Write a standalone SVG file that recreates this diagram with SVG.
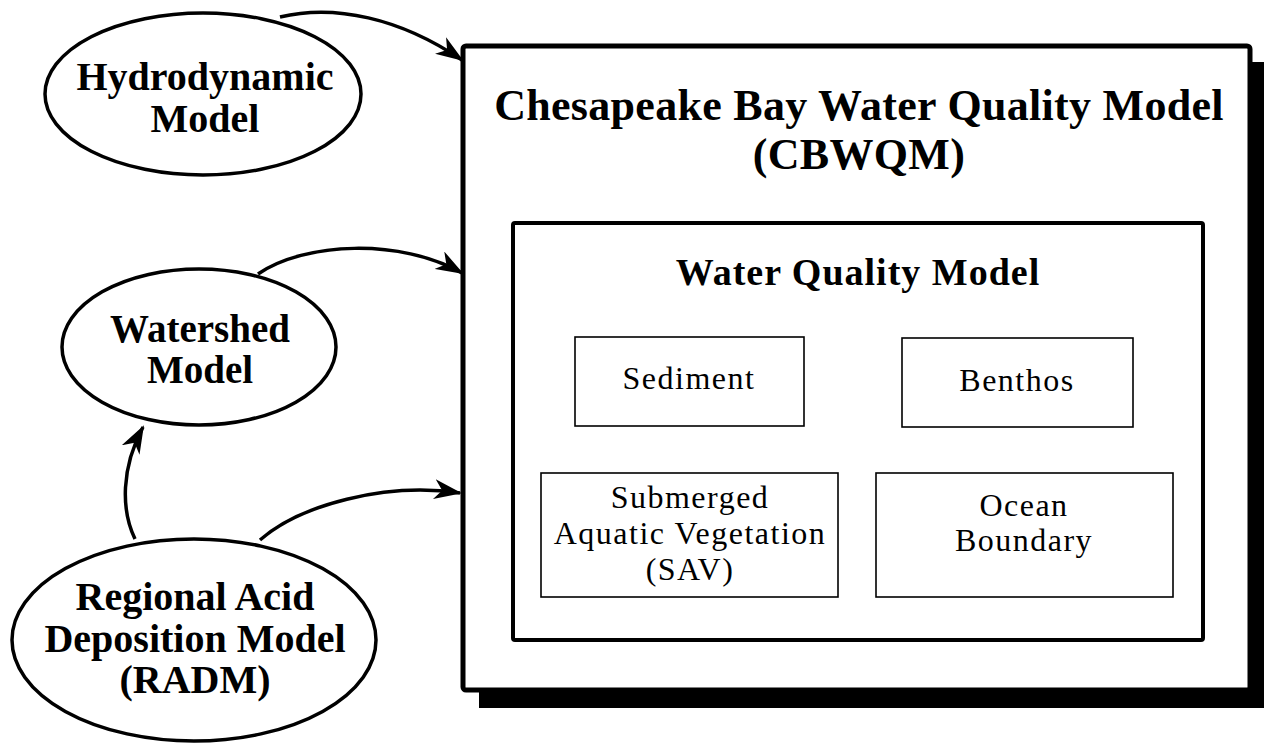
<svg xmlns="http://www.w3.org/2000/svg" width="1264" height="745" viewBox="0 0 1264 745">
  <style>
    .bold { font-family: "Liberation Serif", "Times New Roman", serif; font-weight: bold; fill: #000; text-anchor: middle; }
    .reg { font-family: "Liberation Serif", "Times New Roman", serif; fill: #000; text-anchor: middle; font-size: 32px; letter-spacing: 1.5px; }
    .oval { fill: #fff; stroke: #000; stroke-width: 3.5; }
    .sub { fill: #fff; stroke: #000; stroke-width: 1.6; }
    .link { fill: none; stroke: #000; stroke-width: 3.5; marker-end: url(#arrow); }
  </style>
  <defs>
    <marker id="arrow" viewBox="0 0 28 20" refX="26" refY="10" markerWidth="28" markerHeight="20" markerUnits="userSpaceOnUse" orient="auto">
      <path d="M0,0 L28,10 L0,20 L8,10 z" fill="#000"/>
    </marker>
  </defs>
  <rect width="1264" height="745" fill="#fff"/>

  <!-- Main model frame with drop shadow -->
  <g id="cbwqm">
    <rect x="479" y="62" width="790" height="646" fill="#000"/>
    <rect x="463" y="46" width="787" height="644" rx="3" fill="#fff" stroke="#000" stroke-width="5"/>
    <text class="bold" x="859" y="120" font-size="44" letter-spacing="0.3">Chesapeake Bay Water Quality Model</text>
    <text class="bold" x="859" y="169" font-size="44" letter-spacing="0.3">(CBWQM)</text>
  </g>

  <g id="wqm">
    <rect x="513" y="223" width="690" height="417" rx="2" fill="#fff" stroke="#000" stroke-width="4"/>
    <text class="bold" x="858" y="285" font-size="38" letter-spacing="1">Water Quality Model</text>
  </g>

  <g id="sediment">
    <rect class="sub" x="575" y="337" width="229" height="89"/>
    <text class="reg" x="689" y="389">Sediment</text>
  </g>

  <g id="benthos">
    <rect class="sub" x="902" y="338" width="231" height="89"/>
    <text class="reg" x="1017" y="391">Benthos</text>
  </g>

  <g id="sav">
    <rect class="sub" x="541" y="473" width="297" height="124"/>
    <text class="reg" x="690" y="508">Submerged</text>
    <text class="reg" x="690" y="544">Aquatic Vegetation</text>
    <text class="reg" x="690" y="580">(SAV)</text>
  </g>

  <g id="ocean">
    <rect class="sub" x="876" y="473" width="297" height="124"/>
    <text class="reg" x="1024" y="516">Ocean</text>
    <text class="reg" x="1024" y="551">Boundary</text>
  </g>

  <!-- Input models -->
  <g id="hydrodynamic">
    <ellipse class="oval" cx="203" cy="94" rx="158" ry="81"/>
    <text class="bold" x="205" y="90" font-size="40">Hydrodynamic</text>
    <text class="bold" x="205" y="132" font-size="40">Model</text>
  </g>

  <g id="watershed">
    <ellipse class="oval" cx="199" cy="347" rx="137" ry="78"/>
    <text class="bold" x="200" y="342" font-size="39">Watershed</text>
    <text class="bold" x="200" y="383" font-size="39">Model</text>
  </g>

  <g id="radm">
    <ellipse class="oval" cx="194" cy="640" rx="182" ry="101"/>
    <text class="bold" x="195" y="610" font-size="40">Regional Acid</text>
    <text class="bold" x="195" y="652" font-size="40">Deposition Model</text>
    <text class="bold" x="195" y="693" font-size="40">(RADM)</text>
  </g>

  <!-- Connectors -->
  <g id="connectors">
    <path class="link" d="M280,17 C335,4 400,18 462,60"/>
    <path class="link" d="M258,274 C305,242 400,238 462,273"/>
    <path class="link" d="M135,539 C121,510 121,468 143,427"/>
    <path class="link" d="M260,540 C300,505 385,482 460,493"/>
  </g>
</svg>
